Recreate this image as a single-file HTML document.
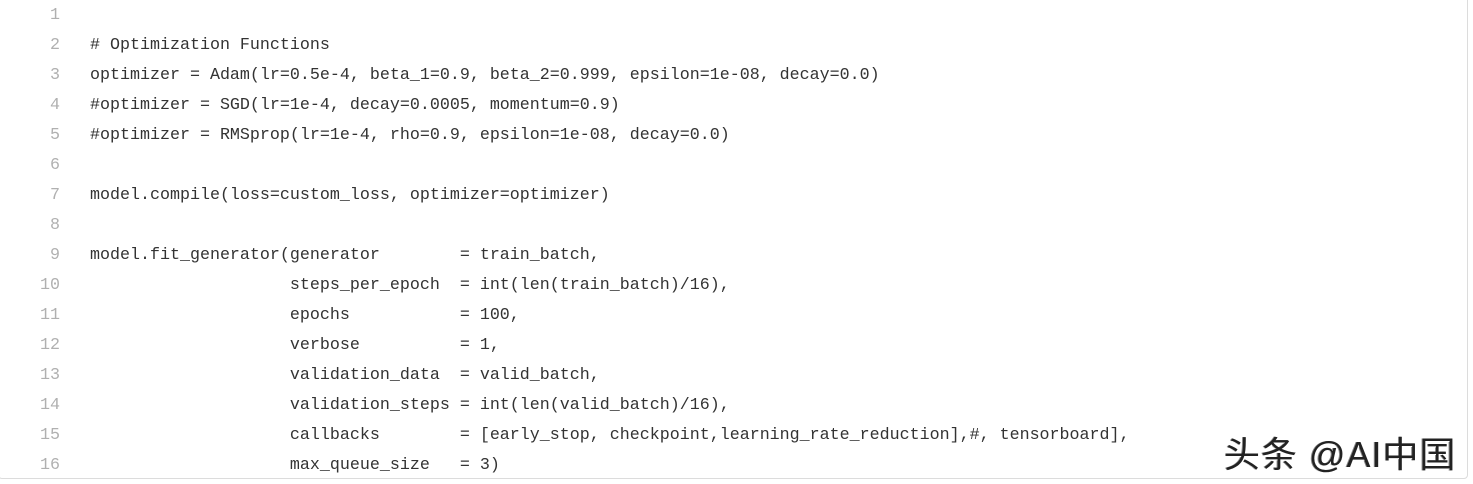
<!DOCTYPE html>
<html><head><meta charset="utf-8"><style>
html,body{margin:0;padding:0;background:#fff;width:1473px;height:484px;overflow:hidden;}
.box{position:absolute;left:-2px;top:-6px;width:1470px;height:485px;border:1px solid #dcdcdc;border-radius:4px;box-sizing:border-box;}
.ln{position:absolute;left:0;width:60px;text-align:right;color:#b0b0b0;font-family:"Liberation Mono",monospace;font-size:16.67px;line-height:30px;}
.code{position:absolute;left:90px;color:#333;font-family:"Liberation Mono",monospace;font-size:16.67px;line-height:30px;white-space:pre;}
.wm{position:absolute;left:1224px;top:426px;font-family:"Liberation Sans","Noto Sans CJK SC",sans-serif;font-size:36px;letter-spacing:1px;color:#222;white-space:nowrap;text-shadow:1px 1px 0 #fff,-1px 0 0 #888;}
</style></head><body>
<div class="box"></div>
<div class="ln" style="top:1px">1<br>2<br>3<br>4<br>5<br>6<br>7<br>8<br>9<br>10<br>11<br>12<br>13<br>14<br>15<br>16</div>
<div class="code" style="top:1px">
# Optimization Functions
optimizer = Adam(lr=0.5e-4, beta_1=0.9, beta_2=0.999, epsilon=1e-08, decay=0.0)
#optimizer = SGD(lr=1e-4, decay=0.0005, momentum=0.9)
#optimizer = RMSprop(lr=1e-4, rho=0.9, epsilon=1e-08, decay=0.0)

model.compile(loss=custom_loss, optimizer=optimizer)

model.fit_generator(generator        = train_batch,
                    steps_per_epoch  = int(len(train_batch)/16),
                    epochs           = 100,
                    verbose          = 1,
                    validation_data  = valid_batch,
                    validation_steps = int(len(valid_batch)/16),
                    callbacks        = [early_stop, checkpoint,learning_rate_reduction],#, tensorboard],
                    max_queue_size   = 3)</div>
<div class="wm">头条 @AI中国</div>
</body></html>
